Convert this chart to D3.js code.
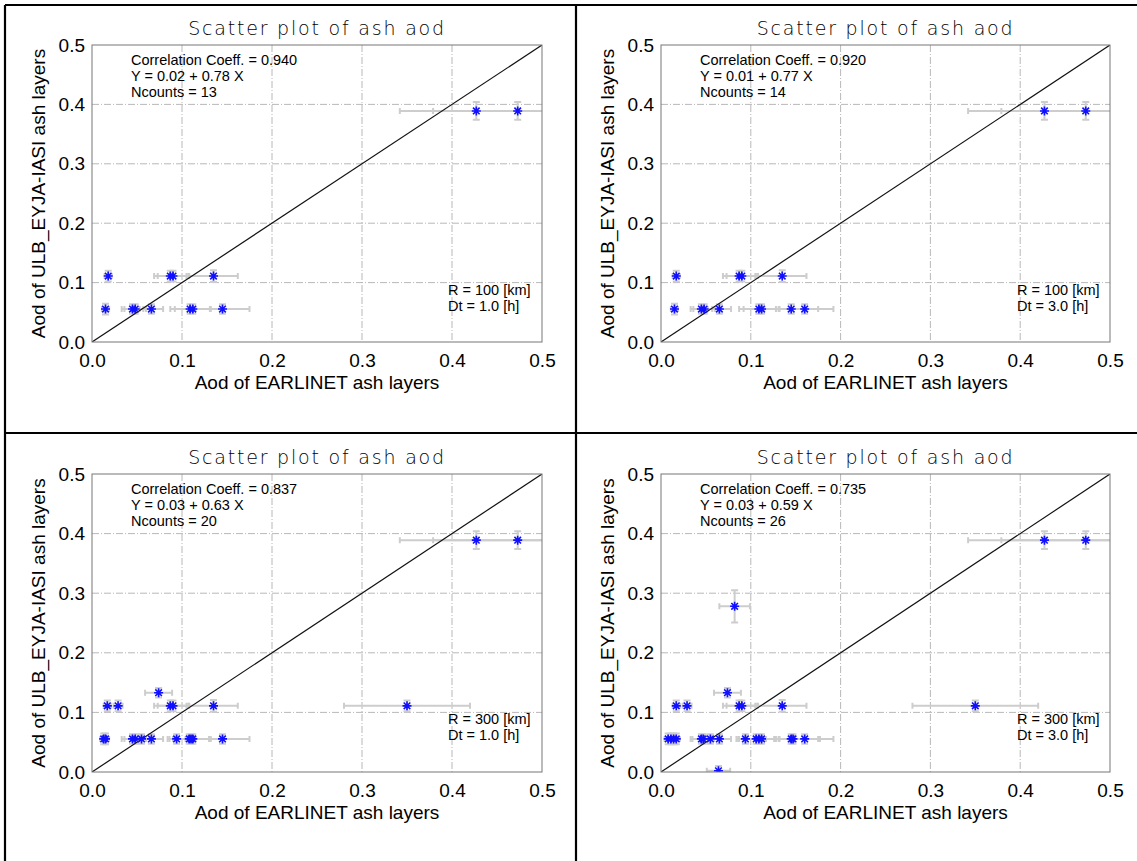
<!DOCTYPE html>
<html>
<head>
<meta charset="utf-8">
<script src="https://cdn.jsdelivr.net/npm/d3@7"></script>
<style>
  body { margin: 0; background: #fff; }
  text { font-family: "Liberation Sans", Arial, sans-serif; fill: #000; }
  .title { font-family: "DejaVu Sans", sans-serif; font-weight: 200; }
</style>
</head>
<body>
<div class="chart"></div>
<script>
// ---- data ----
var tickValues = [0.0, 0.1, 0.2, 0.3, 0.4, 0.5];
var tickLabels = ["0.0", "0.1", "0.2", "0.3", "0.4", "0.5"];

var corrLabels = ["Correlation Coeff. = 0.940", "Correlation Coeff. = 0.920", "Correlation Coeff. = 0.837", "Correlation Coeff. = 0.735"];
var fitLabels = ["Y = 0.02 + 0.78 X", "Y = 0.01 + 0.77 X", "Y = 0.03 + 0.63 X", "Y = 0.03 + 0.59 X"];
var countLabels = ["Ncounts = 13", "Ncounts = 14", "Ncounts = 20", "Ncounts = 26"];
var radiusLabels = ["R = 100 [km]", "R = 100 [km]", "R = 300 [km]", "R = 300 [km]"];
var dtLabels = ["Dt = 1.0 [h]", "Dt = 3.0 [h]", "Dt = 1.0 [h]", "Dt = 3.0 [h]"];

// panel 1 : R=100 km, Dt=1 h
var p1X = [0.427, 0.473, 0.018, 0.087, 0.090, 0.135, 0.015, 0.045, 0.048, 0.066, 0.109, 0.112, 0.145];
var p1Y = [0.389, 0.389, 0.111, 0.111, 0.111, 0.111, 0.0555, 0.0555, 0.0555, 0.0555, 0.0555, 0.0555, 0.0555];
var p1Ex = [0.085, 0.094, 0.004, 0.018, 0.017, 0.027, 0.004, 0.012, 0.012, 0.013, 0.022, 0.020, 0.030];
var p1Ey = [0.015, 0.015, 0.009, 0.009, 0.009, 0.010, 0.009, 0.008, 0.008, 0.008, 0.008, 0.008, 0.008];

// panel 2 : R=100 km, Dt=3 h
var p2X = [0.427, 0.473, 0.017, 0.087, 0.090, 0.135, 0.015, 0.045, 0.048, 0.065, 0.109, 0.112, 0.145, 0.160];
var p2Y = [0.389, 0.389, 0.111, 0.111, 0.111, 0.111, 0.0555, 0.0555, 0.0555, 0.0555, 0.0555, 0.0555, 0.0555, 0.0555];
var p2Ex = [0.085, 0.094, 0.004, 0.018, 0.017, 0.027, 0.004, 0.012, 0.012, 0.013, 0.022, 0.020, 0.030, 0.032];
var p2Ey = [0.015, 0.015, 0.009, 0.009, 0.009, 0.010, 0.009, 0.008, 0.008, 0.008, 0.008, 0.008, 0.008, 0.008];

// panel 3 : R=300 km, Dt=1 h
var p3X = [0.427, 0.473, 0.074, 0.017, 0.029, 0.087, 0.090, 0.135, 0.350, 0.013, 0.015, 0.045, 0.048, 0.055, 0.066, 0.094, 0.108, 0.110, 0.112, 0.145];
var p3Y = [0.389, 0.389, 0.133, 0.111, 0.111, 0.111, 0.111, 0.111, 0.111, 0.0555, 0.0555, 0.0555, 0.0555, 0.0555, 0.0555, 0.0555, 0.0555, 0.0555, 0.0555, 0.0555];
var p3Ex = [0.085, 0.094, 0.015, 0.004, 0.005, 0.018, 0.017, 0.027, 0.070, 0.004, 0.004, 0.012, 0.012, 0.010, 0.013, 0.010, 0.022, 0.020, 0.020, 0.030];
var p3Ey = [0.015, 0.015, 0.008, 0.009, 0.009, 0.009, 0.009, 0.010, 0.009, 0.009, 0.009, 0.008, 0.008, 0.008, 0.008, 0.008, 0.008, 0.008, 0.008, 0.008];

// panel 4 : R=300 km, Dt=3 h
var p4X = [0.427, 0.473, 0.082, 0.074, 0.017, 0.029, 0.087, 0.090, 0.135, 0.350, 0.008, 0.011, 0.014, 0.017, 0.045, 0.047, 0.055, 0.065, 0.094, 0.106, 0.109, 0.112, 0.145, 0.147, 0.160, 0.064];
var p4Y = [0.389, 0.389, 0.278, 0.133, 0.111, 0.111, 0.111, 0.111, 0.111, 0.111, 0.0555, 0.0555, 0.0555, 0.0555, 0.0555, 0.0555, 0.0555, 0.0555, 0.0555, 0.0555, 0.0555, 0.0555, 0.0555, 0.0555, 0.0555, 0.002];
var p4Ex = [0.085, 0.094, 0.017, 0.015, 0.004, 0.005, 0.018, 0.017, 0.027, 0.070, 0.004, 0.004, 0.004, 0.004, 0.012, 0.012, 0.010, 0.013, 0.010, 0.020, 0.022, 0.020, 0.030, 0.030, 0.032, 0.013];
var p4Ey = [0.015, 0.015, 0.027, 0.008, 0.009, 0.009, 0.009, 0.009, 0.010, 0.009, 0.009, 0.009, 0.009, 0.009, 0.008, 0.008, 0.008, 0.008, 0.008, 0.008, 0.008, 0.008, 0.008, 0.008, 0.008, 0.008];

var panelX = [p1X, p2X, p3X, p4X];
var panelY = [p1Y, p2Y, p3Y, p4Y];
var panelEx = [p1Ex, p2Ex, p3Ex, p4Ex];
var panelEy = [p1Ey, p2Ey, p3Ey, p4Ey];

// ---- layout ----
var svgWidth = 1137;
var svgHeight = 861;

// plot area boxes (left, top, width, height)
var boxes = [
  { left: 92, top: 45, width: 450, height: 297 },
  { left: 661, top: 45, width: 449, height: 297 },
  { left: 92, top: 474, width: 450, height: 298 },
  { left: 661, top: 474, width: 449, height: 298 }
];

var svg = d3
  .select(".chart")
  .append("svg")
  .attr("width", svgWidth)
  .attr("height", svgHeight)
  .style("display", "block");

svg.append("rect").attr("width", svgWidth).attr("height", svgHeight).attr("fill", "#fff");

// panel frame lines
var frame = svg.append("g").attr("stroke", "#000").attr("stroke-width", 2.2);
frame.append("line").attr("x1", 5).attr("y1", 5).attr("x2", svgWidth).attr("y2", 5);
frame.append("line").attr("x1", 5).attr("y1", 5).attr("x2", 5).attr("y2", svgHeight);
frame.append("line").attr("x1", 576).attr("y1", 5).attr("x2", 576).attr("y2", svgHeight);
frame.append("line").attr("x1", 5).attr("y1", 433).attr("x2", svgWidth).attr("y2", 433);

var star = "M-4.5,0L4.5,0M0,-4.5L0,4.5M-3.3,-3.3L3.3,3.3M-3.3,3.3L3.3,-3.3";

boxes.forEach(function(box, p) {
  var width = box.width;
  var height = box.height;

  var xScale = d3.scaleLinear().domain([0, 0.5]).range([0, width]);
  var yScale = d3.scaleLinear().domain([0, 0.5]).range([height, 0]);

  var chart = svg.append("g")
    .attr("transform", "translate(" + box.left + "," + box.top + ")");

  chart.append("clipPath").attr("id", "clip" + p)
    .append("rect").attr("width", width).attr("height", height);

  // grid
  var grid = chart.append("g")
    .attr("stroke", "#b0b0b0")
    .attr("stroke-width", 0.9)
    .attr("stroke-dasharray", "7,2,1,2");
  grid.selectAll(".gx").data(tickValues.slice(1, 5)).enter().append("line")
    .attr("x1", function(d) { return xScale(d); })
    .attr("x2", function(d) { return xScale(d); })
    .attr("y1", 0).attr("y2", height);
  grid.selectAll(".gy").data(tickValues.slice(1, 5)).enter().append("line")
    .attr("y1", function(d) { return yScale(d); })
    .attr("y2", function(d) { return yScale(d); })
    .attr("x1", 0).attr("x2", width);

  // axes
  var bottomAxis = d3.axisBottom(xScale).tickValues(tickValues)
    .tickFormat(function(d, i) { return tickLabels[i]; }).tickSize(0).tickPadding(12);
  var leftAxis = d3.axisLeft(yScale).tickValues(tickValues)
    .tickFormat(function(d, i) { return tickLabels[i]; }).tickSize(0).tickPadding(7);

  var gx = chart.append("g").attr("transform", "translate(0," + height + ")").call(bottomAxis);
  var gy = chart.append("g").call(leftAxis);
  [gx, gy].forEach(function(g) {
    g.select(".domain").remove();
    g.selectAll("text").style("font-size", "19px").attr("fill", "#000")
      .style("font-family", "'Liberation Sans', Arial, sans-serif");
  });

  // data
  var pts = panelX[p].map(function(x, i) {
    return { x: x, y: panelY[p][i], ex: panelEx[p][i], ey: panelEy[p][i] };
  });

  var data = chart.append("g").attr("clip-path", "url(#clip" + p + ")");

  var bars = data.append("g").attr("stroke", "#cdcdcd").attr("stroke-width", 2).attr("fill", "none");
  bars.selectAll("path").data(pts).enter().append("path")
    .attr("d", function(d) {
      var cx = xScale(d.x), cy = yScale(d.y);
      var x0 = xScale(d.x - d.ex), x1 = xScale(d.x + d.ex);
      var y0 = yScale(d.y - d.ey), y1 = yScale(d.y + d.ey);
      return "M" + x0 + "," + cy + "L" + x1 + "," + cy +
        "M" + x0 + "," + (cy - 3) + "L" + x0 + "," + (cy + 3) +
        "M" + x1 + "," + (cy - 3) + "L" + x1 + "," + (cy + 3) +
        "M" + cx + "," + y0 + "L" + cx + "," + y1 +
        "M" + (cx - 3.5) + "," + y0 + "L" + (cx + 3.5) + "," + y0 +
        "M" + (cx - 3.5) + "," + y1 + "L" + (cx + 3.5) + "," + y1;
    });

  // one-to-one line
  data.append("line")
    .attr("x1", xScale(0)).attr("y1", yScale(0))
    .attr("x2", xScale(0.5)).attr("y2", yScale(0.5))
    .attr("stroke", "#111").attr("stroke-width", 1.2);

  data.append("g").selectAll("path").data(pts).enter().append("path")
    .attr("d", star)
    .attr("transform", function(d) { return "translate(" + xScale(d.x) + "," + yScale(d.y) + ")"; })
    .attr("stroke", "#1010ff")
    .attr("stroke-width", 1.6)
    .attr("fill", "none");

  // plot box
  chart.append("rect").attr("width", width).attr("height", height)
    .attr("fill", "none").attr("stroke", "#777").attr("stroke-width", 1);

  // annotations
  var note = chart.append("g").style("font-size", "14.5px");
  [corrLabels[p], fitLabels[p], countLabels[p]].forEach(function(t, i) {
    note.append("text").attr("x", 39).attr("y", 20 + i * 16).text(t);
  });
  [radiusLabels[p], dtLabels[p]].forEach(function(t, i) {
    note.append("text").attr("x", 356).attr("y", 250 + i * 16).text(t);
  });

  // titles
  chart.append("text")
    .attr("class", "title")
    .attr("x", width / 2)
    .attr("y", -10)
    .attr("text-anchor", "middle")
    .style("font-size", "19px")
    .style("letter-spacing", "1.8px")
    .attr("fill", "#111")
    .text("Scatter plot of ash aod");

  chart.append("text")
    .attr("x", width / 2)
    .attr("y", height + 47)
    .attr("text-anchor", "middle")
    .style("font-size", "19px")
    .text("Aod of EARLINET ash layers");

  chart.append("text")
    .attr("transform", "rotate(-90)")
    .attr("x", -height / 2)
    .attr("y", -47)
    .attr("text-anchor", "middle")
    .style("font-size", "19px")
    .text("Aod of ULB_EYJA-IASI ash layers");
});
</script>
</body>
</html>
